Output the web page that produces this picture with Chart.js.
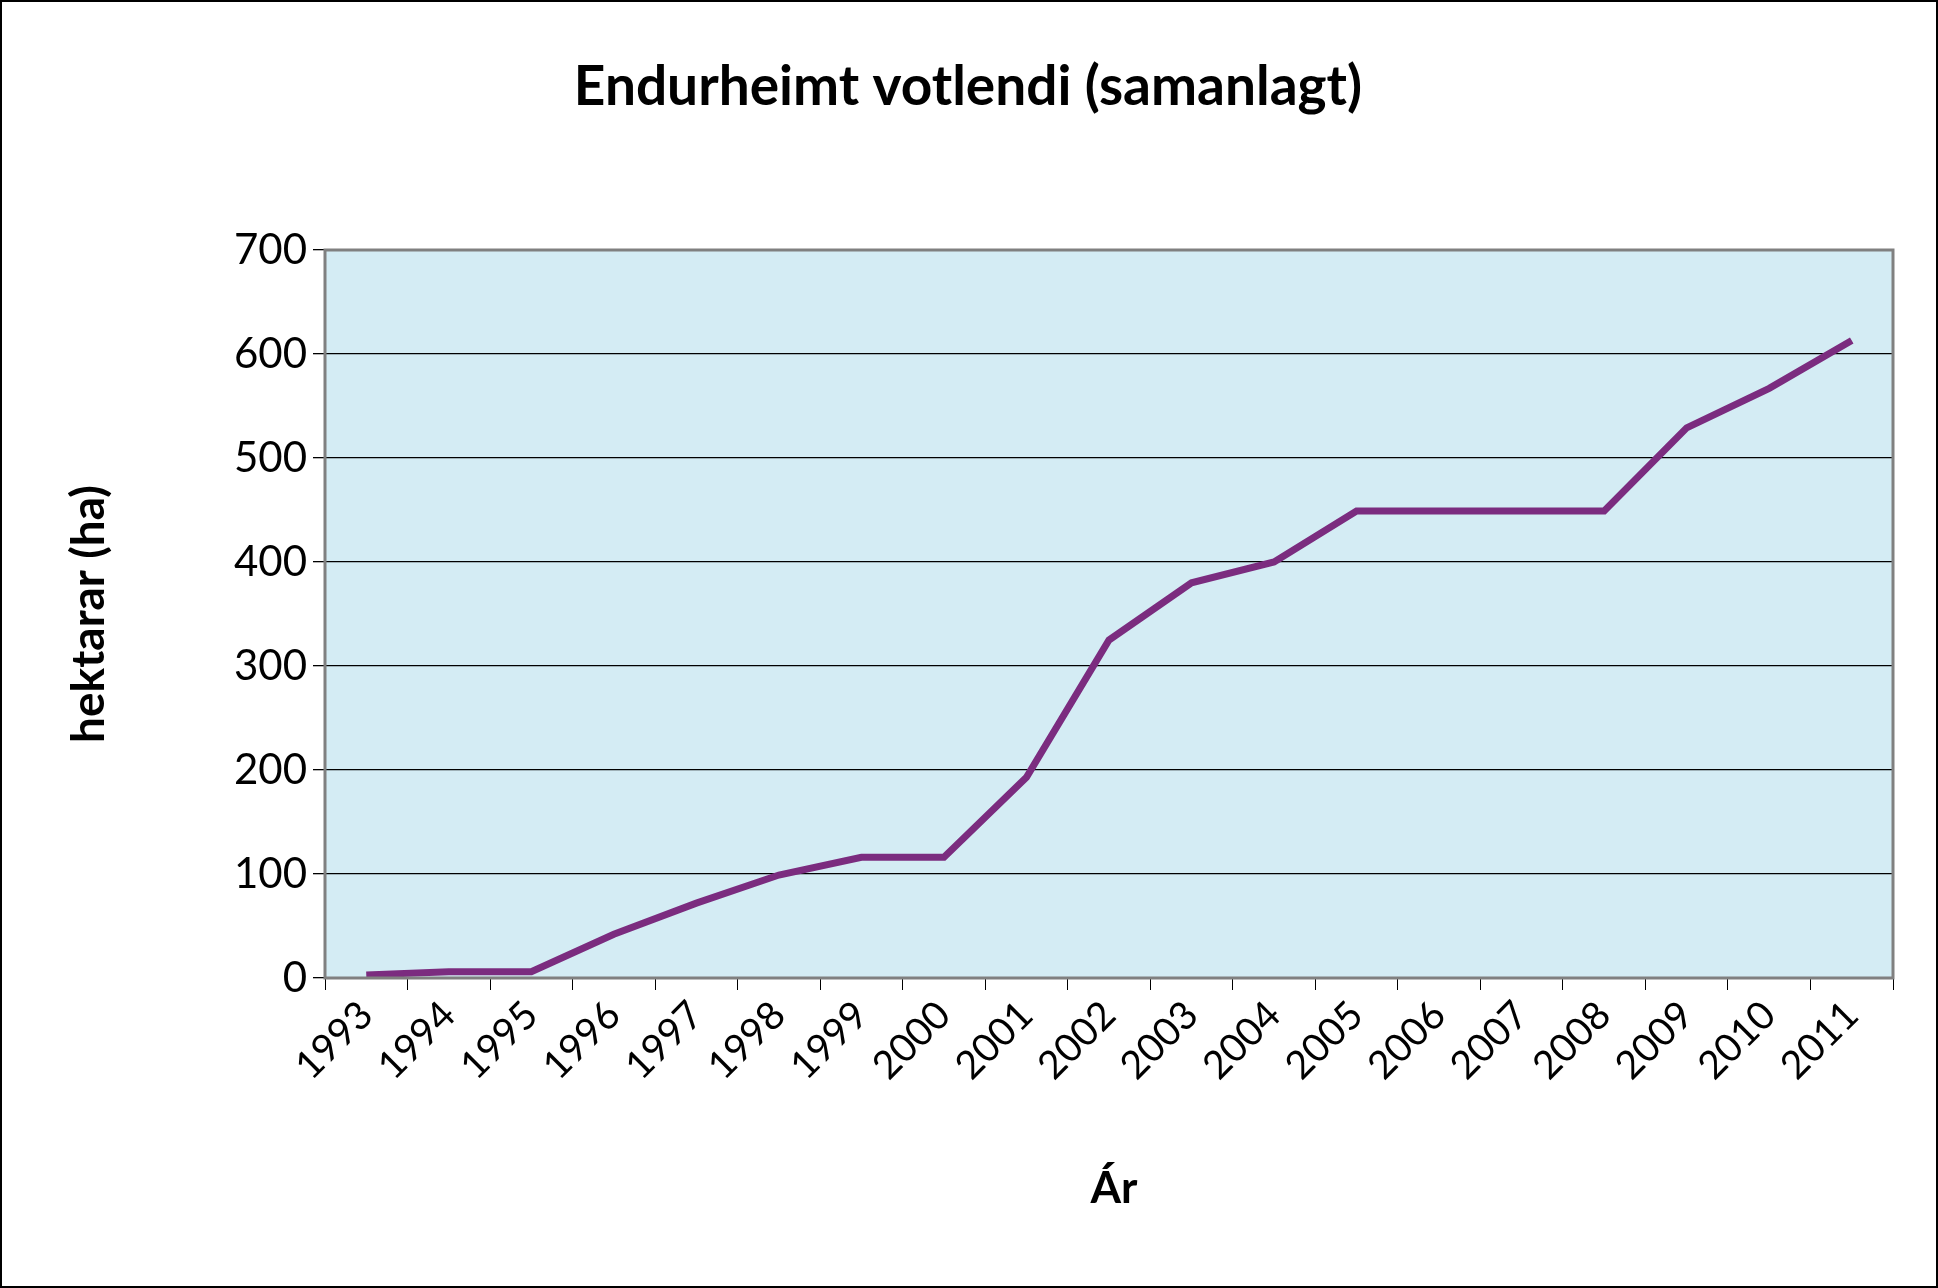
<!DOCTYPE html>
<html><head><meta charset="utf-8">
<script src="https://cdn.jsdelivr.net/npm/chart.js@4"></script>
<style>html,body{margin:0;padding:0;background:#fff}#w{width:1938px;height:1288px}</style>
</head><body><div id="w"><canvas id="c"></canvas></div>
<script>
const years = ['1993','1994','1995','1996','1997','1998','1999','2000','2001','2002','2003','2004','2005','2006','2007','2008','2009','2010','2011'];
const hectares = [3,6,6,42,72,99,116,116,193,325,380,400,449,449,449,449,529,567,613];
const titleText = 'Endurheimt votlendi (samanlagt)';
const yTitle = 'hektarar (ha)';
const xTitle = 'Ár';
const FONT = 'Lato, "Open Sans", sans-serif';

const deco = {
  id:'deco',
  beforeDraw(ch){
    const c=ch.ctx, a=ch.chartArea;
    c.save();
    c.fillStyle='#fff';c.fillRect(0,0,ch.width,ch.height);
    c.strokeStyle='#000';c.lineWidth=2;c.strokeRect(1,1,ch.width-2,ch.height-2);
    c.fillStyle='#D4ECF4';c.fillRect(a.left,a.top,a.right-a.left,a.bottom-a.top);
    c.restore();
  },
  afterDraw(ch){
    const c=ch.ctx, a=ch.chartArea;
    c.save();
    c.strokeStyle='#808080';c.lineWidth=3;c.strokeRect(a.left,a.top,a.right-a.left,a.bottom-a.top);
    c.fillStyle='#000';c.textAlign='center';c.textBaseline='middle';
    c.font='bold 55px '+FONT;c.fillText(titleText,968,87);
    c.font='bold 44px '+FONT;c.fillText(xTitle,1114,1189);
    c.font='bold 46px '+FONT;
    c.translate(89,614);c.rotate(-Math.PI/2);c.fillText(yTitle,0,0);
    c.restore();
  }
};

new Chart(document.getElementById('c'),{
  type:'line',
  data:{labels:years,datasets:[{data:hectares,borderColor:'#7B2C7F',borderWidth:7,pointRadius:0,tension:0,fill:false}]},
  options:{
    responsive:true,maintainAspectRatio:false,animation:false,devicePixelRatio:1,
    layout:{padding:{top:250,right:45,left:0,bottom:0}},
    plugins:{legend:{display:false},tooltip:{enabled:false}},
    scales:{
      x:{offset:true,
        grid:{offset:true,drawOnChartArea:false,color:'#000',tickLength:12},
        border:{display:false},
        ticks:{color:'#000',font:{size:39,family:FONT},maxRotation:45,minRotation:45,autoSkip:false,padding:2},
        afterFit(s){s.height=310;}},
      y:{min:0,max:700,
        grid:{color:'#000',lineWidth:1.3,tickLength:12},
        border:{display:false},
        ticks:{stepSize:100,color:'#000',font:{size:42,family:FONT},padding:6},
        afterFit(s){s.width=325;}}
    }
  },
  plugins:[deco]
});
</script></body></html>
